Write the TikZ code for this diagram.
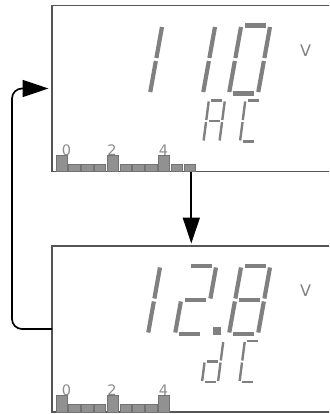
\documentclass[tikz,border=0pt]{standalone}
\usepackage{fontspec}
\setmainfont{DejaVu Sans}
\usetikzlibrary{arrows.meta}
\definecolor{lcd-gray}{RGB}{128,128,128}
\definecolor{tick-gray}{RGB}{140,140,140}
\definecolor{bar-gray}{RGB}{145,145,145}
\definecolor{bar-edge}{RGB}{115,115,115}
\definecolor{screen-edge}{RGB}{85,85,85}

\tikzset{
  screen/.style={draw=screen-edge, line width=1.2pt, minimum width=300pt, minimum height=166pt,
    anchor=north west, inner sep=0pt, outer sep=0pt},
  bigdigit/.style={xslant=0.18, /utils/exec={\def\digitw{29}\def\digith{68}},
    h seg/.style={draw=lcd-gray, line width=4.2pt, shorten <=4pt, shorten >=4pt},
    v seg/.style={draw=lcd-gray, line width=4.2pt, shorten <=1.5pt, shorten >=1.5pt}},
  smalldigit/.style={xslant=0.13, /utils/exec={\def\digitw{16}\def\digith{41}},
    h seg/.style={draw=lcd-gray, line width=2.4pt, shorten <=2.5pt, shorten >=2.5pt},
    v seg/.style={draw=lcd-gray, line width=2.4pt, shorten <=1pt, shorten >=1pt}},
  bar/.style={fill=bar-gray, draw=bar-edge, line width=0.8pt},
  scalelabel/.style={text=tick-gray, inner sep=0pt, font=\fontsize{14.5}{15}\selectfont},
  unitlabel/.style={text=lcd-gray, inner sep=0pt, font=\fontsize{16}{16}\selectfont},
  flow/.style={draw=black, line width=1.7pt, -{Triangle[length=26pt,width=17pt]}}
}

% one seven-segment digit: style, bottom left corner, segments as from/to/kind
\newcommand{\lcddigit}[3]{%
  \begin{scope}[shift={#2}, #1]
    \coordinate (tl) at (0,-\digith);
    \coordinate (tr) at (\digitw,-\digith);
    \coordinate (ml) at (0,-\digith/2);
    \coordinate (mr) at (\digitw,-\digith/2);
    \coordinate (bl) at (0,0);
    \coordinate (br) at (\digitw,0);
    \foreach \p/\q/\k in {#3} \draw[\k\space seg] (\p) -- (\q);
  \end{scope}}

% bar graph along the bottom edge of a screen
\newcommand{\lcdbars}[1]{%
  \foreach \i in {0,...,#1}{
    \pgfmathsetmacro{\barh}{mod(\i,4)==0 ? 16.5 : 7.5}
    \draw[bar] (56+12.8*\i,171.5) rectangle ++(11.3,-\barh);
  }
  \node[scalelabel] (tick0) at (66.5,150) {0};
  \node[scalelabel] (tick2) at (112,150) {2};
  \node[scalelabel] (tick4) at (163.5,150) {4};}

\begin{document}
\begin{tikzpicture}[x=1pt, y=-1pt]
  \path[use as bounding box] (0,0) rectangle (329,414);
  \clip (0,0) rectangle (329,414);

  % AC reading
  \begin{scope}
    \node[screen] (acscreen) at (52,5.5) {};
    \lcddigit{bigdigit}{(121,93.5)}{tr/mr/v, mr/br/v}
    \lcddigit{bigdigit}{(174,93.5)}{tr/mr/v, mr/br/v}
    \lcddigit{bigdigit}{(229,93.5)}{tl/tr/h, tr/mr/v, mr/br/v, bl/br/h, ml/bl/v, tl/ml/v}
    \lcddigit{smalldigit}{(203.5,141.5)}{tl/tr/h, tr/mr/v, mr/br/v, ml/bl/v, tl/ml/v, ml/mr/h}
    \lcddigit{smalldigit}{(240,141.5)}{tl/tr/h, tl/ml/v, ml/bl/v, bl/br/h}
    \node[unitlabel] (acunit) at (305.5,50.5) {V};
    \lcdbars{10}
  \end{scope}

  % DC reading
  \begin{scope}[shift={(0,240.5)}]
    \node[screen] (dcscreen) at (52,5.5) {};
    \lcddigit{bigdigit}{(119,93.5)}{tr/mr/v, mr/br/v}
    \lcddigit{bigdigit}{(175,93.5)}{tl/tr/h, tr/mr/v, ml/mr/h, ml/bl/v, bl/br/h}
    \lcddigit{bigdigit}{(229,93.5)}{tl/tr/h, tr/mr/v, mr/br/v, bl/br/h, ml/bl/v, tl/ml/v, ml/mr/h}
    \fill[lcd-gray] (213,86.5) rectangle (221,94.5);
    \lcddigit{smalldigit}{(202,141.5)}{tr/mr/v, mr/br/v, ml/mr/h, ml/bl/v, bl/br/h}
    \lcddigit{smalldigit}{(239.5,141.5)}{tl/tr/h, tl/ml/v, ml/bl/v, bl/br/h}
    \node[unitlabel] (dcunit) at (305.5,50.5) {V};
    \lcdbars{8}
  \end{scope}

  % switching between the two readings
  \coordinate (tap) at (191.3,0);
  \draw[flow, shorten >=2.5pt] (tap |- acscreen.south) -- (tap |- dcscreen.north);
  \draw[flow, rounded corners=10pt, shorten >=3.5pt] (dcscreen.west) -- ++(-40,0) |- (acscreen.west);
\end{tikzpicture}
\end{document}
